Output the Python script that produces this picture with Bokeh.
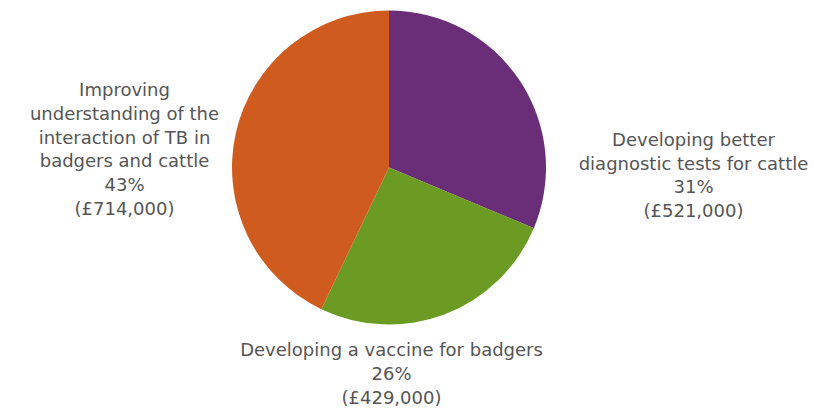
import math
from bokeh.plotting import figure
from bokeh.models import Range1d, ColumnDataSource
from bokeh.core.properties import value
from bokeh.embed import file_html
from bokeh.resources import INLINE

# Data
categories = ["Developing better\ndiagnostic tests for cattle",
              "Developing a vaccine for badgers",
              "Improving\nunderstanding of the\ninteraction of TB in\nbadgers and cattle"]
amounts = [521000, 429000, 714000]
percents = ["31%", "26%", "43%"]
amount_labels = ["(£521,000)", "(£429,000)", "(£714,000)"]
colors = ["#6a2d78", "#6b9b22", "#cf5b1e"]

W, H = 812, 410
p = figure(width=W, height=H, output_backend="svg", toolbar_location=None,
           x_range=Range1d(0, W), y_range=Range1d(0, H), min_border=0)
p.axis.visible = False
p.grid.visible = False
p.outline_line_color = None
p.background_fill_color = "white"

cx, cy, r = 388.5, H - 167, 157
total = sum(amounts)
starts, ends = [], []
cum = 0.0
for a in amounts:
    s = math.pi / 2 - 2 * math.pi * cum / total
    cum += a
    e = math.pi / 2 - 2 * math.pi * cum / total
    starts.append(e)
    ends.append(s)

src = ColumnDataSource(dict(start=starts, end=ends, color=colors))
p.wedge(x=cx, y=cy, radius=r, start_angle="start", end_angle="end",
        fill_color="color", line_color=None, source=src)

# label layout (positions only)
label_pos = [(693, H - 174.5), (391, H - 373), (124, H - 148.5)]
texts = [f"{c}\n{pc}\n{al}" for c, pc, al in zip(categories, percents, amount_labels)]
lsrc = ColumnDataSource(dict(x=[q[0] for q in label_pos], y=[q[1] for q in label_pos], t=texts))
p.text(x="x", y="y", text="t", source=lsrc, text_align="center", text_baseline="middle",
       text_font=value("DejaVu Sans"), text_font_size="18px", text_color="#555555",
       text_line_height=1.14)

open("out.html", "w").write(file_html(p, INLINE))
